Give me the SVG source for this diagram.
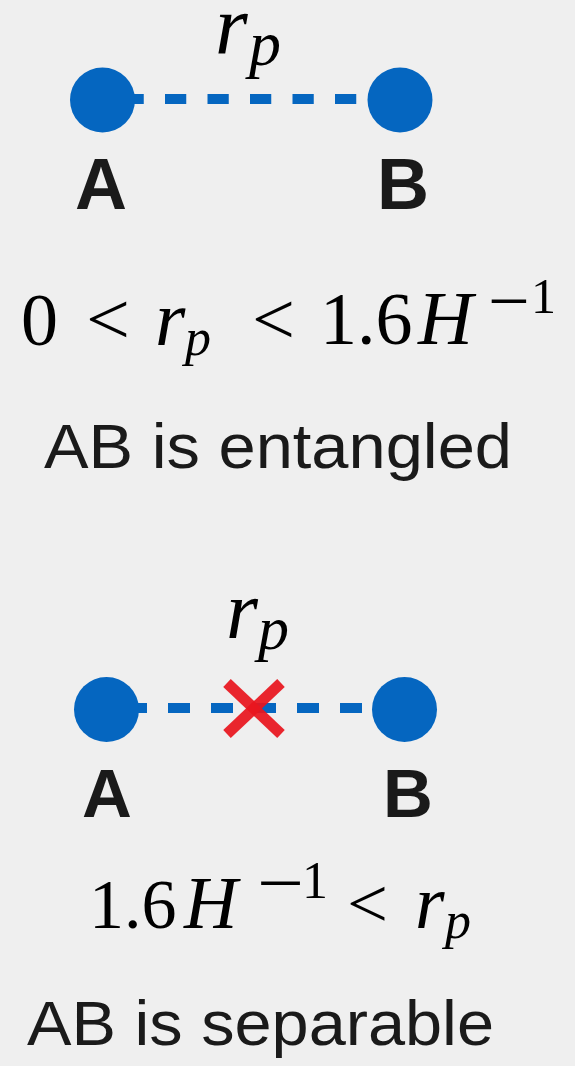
<svg xmlns="http://www.w3.org/2000/svg" width="575" height="1066" viewBox="0 0 575 1066">
  <defs>
    <style>
      .bg { fill: #efefef; }
      .node { fill: #0566c0; }
      .dash { stroke: #0566c0; stroke-width: 10; fill: none; }
      .cross { stroke: #e8161e; stroke-width: 11; stroke-opacity: 0.93; stroke-linecap: butt; fill: none; }
      .lbl { font-family: "Liberation Sans", Arial, sans-serif; font-weight: bold; fill: #1a1a1a; }
      .cap { font-family: "Liberation Sans", Arial, sans-serif; fill: #1a1a1a; font-size: 63px; }
      .m { font-family: "Liberation Serif", "Times New Roman", serif; fill: #000; }
      .mi { font-family: "Liberation Serif", "Times New Roman", serif; font-style: italic; fill: #000; }
    </style>
  </defs>
  <rect class="bg" x="0" y="0" width="575" height="1066"/>

  <g id="connectors">
    <line class="dash" x1="122.5" y1="99" x2="400" y2="99" stroke-dasharray="21.25 21.25"/>
    <line class="dash" x1="125" y1="708" x2="404" y2="708" stroke-dasharray="22 21"/>
  </g>

  <g id="node-A1">
    <circle class="node" cx="102.5" cy="100" r="32.5"/>
    <text class="lbl" x="75" y="209" font-size="72">A</text>
  </g>
  <g id="node-B1">
    <circle class="node" cx="400" cy="100" r="32.5"/>
    <text class="lbl" x="377" y="209" font-size="72">B</text>
  </g>
  <g id="label-rp1">
    <text class="mi" x="215" y="54" font-size="84">r</text>
    <text class="mi" x="249" y="65" font-size="64">p</text>
  </g>

  <g id="formula-1">
    <text class="m" x="21" y="345" font-size="74">0</text>
    <text class="m" x="86" y="344" font-size="74" textLength="44" lengthAdjust="spacingAndGlyphs">&lt;</text>
    <text class="mi" x="155" y="345" font-size="78">r</text>
    <text class="mi" x="185" y="355" font-size="52">p</text>
    <text class="m" x="252" y="344" font-size="74" textLength="43" lengthAdjust="spacingAndGlyphs">&lt;</text>
    <text class="m" x="320" y="344" font-size="74">1.6</text>
    <text class="mi" x="418" y="344" font-size="76">H</text>
    <text class="m" x="488" y="326" font-size="74">−</text>
    <text class="m" x="531" y="313" font-size="50">1</text>
  </g>
  <g id="caption-1">
    <text class="cap" x="44" y="468" textLength="468" lengthAdjust="spacingAndGlyphs">AB is entangled</text>
  </g>

  <g id="label-rp2">
    <text class="mi" x="226" y="638" font-size="82">r</text>
    <text class="mi" x="258" y="649" font-size="62">p</text>
  </g>
  <g id="node-A2">
    <circle class="node" cx="106.5" cy="709.5" r="32.5"/>
    <text class="lbl" x="82" y="817" font-size="69">A</text>
  </g>
  <g id="node-B2">
    <circle class="node" cx="404.5" cy="709.5" r="32.5"/>
    <text class="lbl" x="383" y="817" font-size="69">B</text>
  </g>
  <g id="cross">
    <line class="cross" x1="227" y1="683" x2="281" y2="734"/>
    <line class="cross" x1="281" y1="683" x2="227" y2="734"/>
  </g>

  <g id="formula-2">
    <text class="m" x="89" y="928" font-size="70">1.6</text>
    <text class="mi" x="184" y="928" font-size="74">H</text>
    <text class="m" x="257" y="908" font-size="74" textLength="47" lengthAdjust="spacingAndGlyphs">−</text>
    <text class="m" x="302" y="898" font-size="52">1</text>
    <text class="m" x="347" y="927" font-size="70" textLength="41" lengthAdjust="spacingAndGlyphs">&lt;</text>
    <text class="mi" x="415" y="928" font-size="76">r</text>
    <text class="mi" x="445" y="938" font-size="52">p</text>
  </g>
  <g id="caption-2">
    <text class="cap" x="27" y="1045" textLength="467" lengthAdjust="spacingAndGlyphs">AB is separable</text>
  </g>
</svg>
